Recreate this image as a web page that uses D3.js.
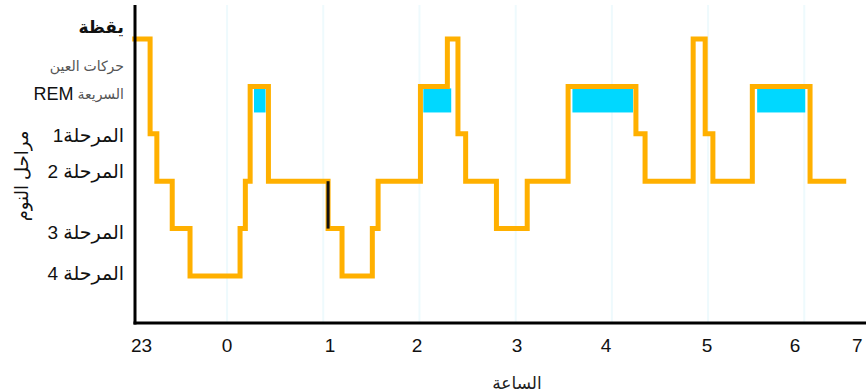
<!DOCTYPE html>
<html><head><meta charset="utf-8">
<script src="https://cdn.jsdelivr.net/npm/d3@7"></script>
<style>
html,body{margin:0;padding:0;background:#fff;}
svg{display:block;}
text{font-family:Arial,"Liberation Sans","DejaVu Sans",sans-serif;}
</style></head>
<body>
<svg id="c" width="866" height="392"></svg>
<script>
// ---- data ----
// stage index: 0 = wake, 1 = REM, 2 = stage 1, 3 = stage 2, 4 = stage 3, 5 = stage 4
// times in hours after midnight (negative = before midnight)
const stepTimes  = [-0.96,-0.80,-0.73,-0.57,-0.385,0.135,0.19,0.24,0.43,1.05,1.195,1.51,1.57,2.01,2.29,2.40,2.48,2.80,3.12,3.545,4.25,4.345,4.845,4.97,5.05,5.46,6.06,6.41];
const stepStages = [0,2,3,4,5,4,3,1,3,4,5,4,3,1,0,2,3,4,3,1,2,3,0,2,3,1,3,3];
const remStart = [0.28,2.04,3.59,5.51];
const remEnd   = [0.40,2.33,4.22,6.01];
const blackSegTime = [1.05];
const blackSegStages = [3,4];
const gridHours = [0,1,2,3,4,5,6];
const xTickLabels = ["23","0","1","2","3","4","5","6","7"];
const xTickPos    = [-0.89,0.0,1.07,1.975,3.015,3.94,4.99,5.905,6.55];
const yLabelText  = ["يقظة","المرحلة1","المرحلة 2","المرحلة 3","المرحلة 4"];
const yLabelPos   = [-0.25,2.05,2.8,4.1,4.95];
const remLabelTop = "حركات العين";
const remLabelArabic = "السريعة";
const remLabelLatin = "REM";
const remLabelPos = [0.58,1.17];
const yTitle = "مراحل النوم";
const xTitle = "الساعة";

// ---- scales ----
const svg = d3.select("#c");
const x = d3.scaleLinear().domain([-0.957, 6.6]).range([135, 862]);
const y = d3.scaleLinear().domain([0, 5]).range([39, 276]);
const axisY = 323, labelRight = 124;

// grid
svg.append("g").selectAll("line").data(gridHours).join("line")
  .attr("x1", d => x(d)).attr("x2", d => x(d))
  .attr("y1", 5).attr("y2", axisY)
  .attr("stroke", "#eefafd").attr("stroke-width", 2);

// REM fills
svg.append("g").selectAll("rect").data(remStart).join("rect")
  .attr("x", (d) => x(d))
  .attr("width", (d, i) => x(remEnd[i]) - x(d))
  .attr("y", y(1) + 2)
  .attr("height", y(1.55) - y(1) - 2)
  .attr("fill", "#00d8ff");

// hypnogram
const pts = stepTimes.map((t, i) => [t, stepStages[i]]);
const line = d3.line().x(d => x(d[0])).y(d => y(d[1])).curve(d3.curveStepAfter);
svg.append("path").datum(pts)
  .attr("d", line).attr("fill", "none")
  .attr("stroke", "#ffb000").attr("stroke-width", 5)
  .attr("stroke-linejoin", "miter").attr("stroke-linecap", "square");

// black segment
svg.append("line")
  .attr("x1", x(blackSegTime[0])).attr("x2", x(blackSegTime[0]))
  .attr("y1", y(blackSegStages[0])).attr("y2", y(blackSegStages[1]))
  .attr("stroke", "#111").attr("stroke-width", 3);

// axes lines
svg.append("line").attr("x1", 135).attr("x2", 135).attr("y1", 5).attr("y2", axisY + 1.5)
  .attr("stroke", "#000").attr("stroke-width", 3);
svg.append("line").attr("x1", 133.5).attr("x2", 866).attr("y1", axisY).attr("y2", axisY)
  .attr("stroke", "#000").attr("stroke-width", 3);

// x tick labels
svg.append("g").selectAll("text").data(xTickLabels).join("text")
  .attr("x", (d, i) => x(xTickPos[i])).attr("y", 352)
  .attr("text-anchor", "middle").attr("font-size", 19).attr("fill", "#111")
  .text(d => d);

// y labels
svg.append("g").selectAll("text").data(yLabelText).join("text")
  .attr("x", labelRight).attr("y", (d, i) => y(yLabelPos[i]) + 6)
  .attr("text-anchor", "end")
  .attr("font-size", (d, i) => i === 0 ? 17 : 19)
  .attr("font-weight", (d, i) => i === 0 ? "bold" : "normal")
  .attr("fill", "#111")
  .text(d => d);

// REM label
svg.append("text").attr("x", labelRight).attr("y", y(remLabelPos[0]) + 5)
  .attr("text-anchor", "end").attr("font-size", 14).attr("fill", "#555")
  .text(remLabelTop);
const ar = svg.append("text").attr("x", labelRight).attr("y", y(remLabelPos[1]) + 5)
  .attr("text-anchor", "end").attr("font-size", 14).attr("fill", "#555")
  .text(remLabelArabic);
const w = ar.node().getComputedTextLength();
svg.append("text").attr("x", labelRight - w - 4).attr("y", y(remLabelPos[1]) + 6)
  .attr("text-anchor", "end").attr("font-size", 18).attr("fill", "#111")
  .text(remLabelLatin);

// titles
svg.append("text").attr("transform", "translate(28,176) rotate(-90)")
  .attr("text-anchor", "middle").attr("font-size", 18).attr("fill", "#111")
  .text(yTitle);
svg.append("text").attr("x", 517).attr("y", 389)
  .attr("text-anchor", "middle").attr("font-size", 17).attr("fill", "#222")
  .text(xTitle);
</script>
</body></html>
